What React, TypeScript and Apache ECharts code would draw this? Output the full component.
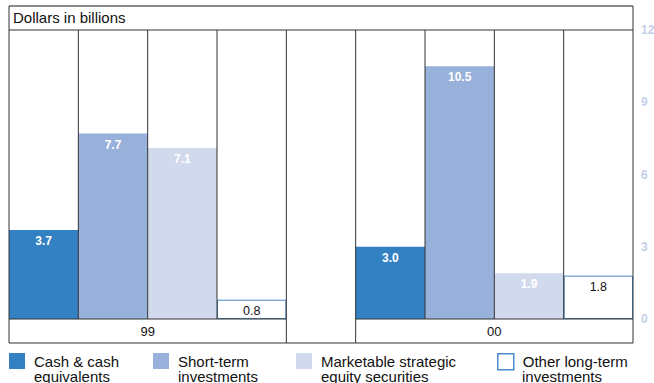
import React, { useEffect, useRef } from "react";
import * as echarts from "echarts";

const years = ["99", "00"];
const seriesNames = [
  "Cash & cash equivalents",
  "Short-term investments",
  "Marketable strategic equity securities",
  "Other long-term investments",
];
const legendFirst = ["Cash & cash", "Short-term", "Marketable strategic", "Other long-term"];
const legendSecond = ["equivalents", "investments", "equity securities", "investments"];
const cash = [3.7, 3.0];
const shortTerm = [7.7, 10.5];
const marketable = [7.1, 1.9];
const otherLong = [0.8, 1.8];
const yTicks = [0, 3, 6, 9, 12];
const titleText = "Dollars in billions";

const colors = ["#3381c3", "#98b1da", "#d1daed", "#ffffff"];
const labelColors = ["#ffffff", "#ffffff", "#ffffff", "#111111"];
const labelWeights = ["bold", "bold", "bold", "normal"];
const labelSizes = [12, 12, 12, 12.5];
const FONT = "Liberation Sans, Arial, Helvetica, sans-serif";

const W = 654;
const H = 383;
const L = 9;
const R = 633;
const TOP = 6;
const TITLE_LINE = 30;
const ZERO = 319;
const BOTTOM = 343;
const LEGEND_X = [9, 153, 296, 497];
const LEGEND_TOP = 353;

export default function App() {
  const ref = useRef<HTMLDivElement>(null);
  useEffect(() => {
    if (!ref.current) return;
    const chart = echarts.init(ref.current, null, { renderer: "svg" });
    const groupSize = seriesNames.length + 1; // 4 bars + gap slot
    const nSlots = years.length * groupSize - 1;
    const slots = Array.from({ length: nSlots }, (_, i) => "s" + i);
    const all = [cash, shortTerm, marketable, otherLong];
    const seriesData = all.map((vals, si) => {
      const arr: (number | null)[] = slots.map(() => null);
      vals.forEach((v, yi) => {
        arr[yi * groupSize + si] = v;
      });
      return arr;
    });
    const colW = (R - L) / nSlots;
    const gapL = L + 4 * colW;
    const gapR = L + 5 * colW;
    const lineStyle = { stroke: "#333", lineWidth: 1 };
    const mk = (x1: number, y1: number, x2: number, y2: number, extra: any = {}) => ({
      type: "line",
      z: 100,
      shape: { x1, y1, x2, y2 },
      style: { ...lineStyle, ...extra },
    });
    const yearPos = years.map((_, yi) => yi * groupSize + 2);

    const separators: any[] = [];
    for (let k = 1; k < nSlots; k++) {
      const x = L + k * colW;
      const isGapEdge = k === 4 || k === 5;
      separators.push(mk(x, TITLE_LINE, x, isGapEdge ? BOTTOM : ZERO));
    }

    chart.setOption({
      animation: false,
      grid: {
        left: L,
        right: W - R,
        top: TITLE_LINE,
        bottom: H - ZERO,
        containLabel: false,
        outerBoundsMode: "none",
      },
      xAxis: [
        {
          type: "category",
          data: slots,
          boundaryGap: true,
          axisLine: { show: false },
          axisTick: { show: false },
          axisLabel: { show: false },
          splitLine: { show: false },
        },
        {
          type: "value",
          min: 0,
          max: nSlots,
          interval: 1,
          position: "bottom",
          axisLine: { show: false },
          axisTick: { show: false },
          splitLine: { show: false },
          axisLabel: {
            margin: 6,
            color: "#111",
            fontSize: 13,
            fontFamily: FONT,
            formatter: (v: number) => {
              const idx = yearPos.indexOf(v);
              return idx >= 0 ? years[idx] : "";
            },
          },
        },
      ],
      yAxis: {
        type: "value",
        position: "right",
        min: yTicks[0],
        max: yTicks[yTicks.length - 1],
        interval: yTicks[1] - yTicks[0],
        axisLine: { show: false },
        axisTick: { show: false },
        splitLine: { show: false },
        axisLabel: {
          margin: 8,
          color: "#c4cfe9",
          fontWeight: "bold",
          fontSize: 12,
          fontFamily: FONT,
        },
      },
      legend: seriesNames.map((n, i) => ({
        data: [n],
        left: LEGEND_X[i],
        top: LEGEND_TOP,
        padding: 0,
        itemWidth: 16,
        itemHeight: 16,
        icon: "rect",
        formatter: () => legendFirst[i],
        selectedMode: false,
        itemStyle:
          i === 3
            ? { color: "#fff", borderColor: "#4a8ac8", borderWidth: 1.5 }
            : { color: colors[i], borderWidth: 0 },
        textStyle: {
          fontSize: 15,
          color: "#111",
          fontFamily: FONT,
          padding: [0, 0, 0, 4],
        },
      })),
      series: seriesData.map((d, si) => ({
        name: seriesNames[si],
        type: "bar",
        data: d,
        barWidth: "100%",
        barGap: "-100%",
        barCategoryGap: 0,
        itemStyle:
          si === 3
            ? { color: colors[si], borderColor: "#4a8ac8", borderWidth: 1 }
            : { color: colors[si] },
        label: {
          show: true,
          position: "insideTop",
          distance: 5,
          color: labelColors[si],
          fontWeight: labelWeights[si],
          fontSize: labelSizes[si],
          fontFamily: FONT,
          formatter: (p: any) => (p.value == null ? "" : Number(p.value).toFixed(1)),
        },
      })),
      graphic: [
        mk(L, TOP, R, TOP, { stroke: "#666", lineWidth: 1.5 }),
        mk(L, TITLE_LINE, R, TITLE_LINE),
        mk(L, TOP, L, BOTTOM),
        mk(R, TOP, R, BOTTOM),
        mk(L, ZERO, gapL, ZERO),
        mk(gapR, ZERO, R, ZERO),
        mk(L, BOTTOM, R, BOTTOM),
        ...separators,
        {
          type: "text",
          z: 100,
          left: 13,
          top: 10,
          style: {
            text: titleText,
            fontSize: 15,
            fill: "#111",
            fontFamily: FONT,
          },
        },
        ...legendSecond.map((t, i) => ({
          type: "text",
          z: 100,
          left: LEGEND_X[i] + 25,
          top: LEGEND_TOP + 16,
          style: { text: t, fontSize: 15, fill: "#111", fontFamily: FONT },
        })),
      ],
    });
    return () => chart.dispose();
  }, []);
  return (
    <div
      ref={ref}
      style={{ position: "fixed", left: 0, top: 0, width: W, height: H, background: "#fff" }}
    />
  );
}
